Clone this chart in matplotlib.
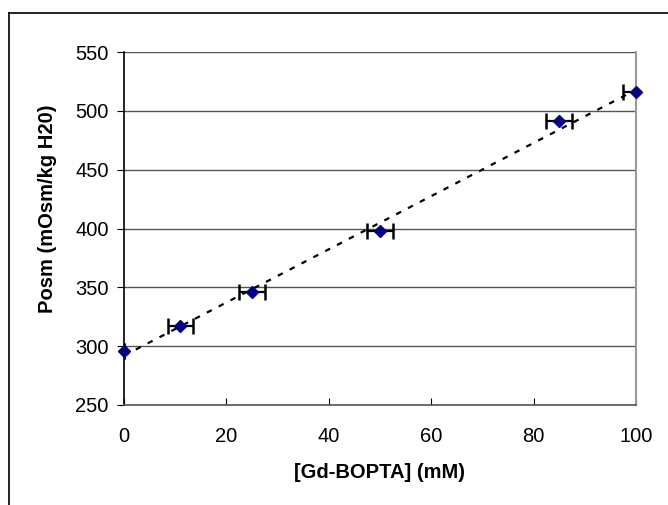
import numpy as np
import matplotlib
matplotlib.use("Agg")
import matplotlib.pyplot as plt
from matplotlib.lines import Line2D

conc = [0, 11, 25, 50, 85, 100]
posm = [296, 317, 346, 398, 491, 516]
conc_err = [0, 2.5, 2.5, 2.5, 2.5, 2.5]

plt.rcParams['font.family'] = ['Liberation Sans', 'DejaVu Sans']

fig = plt.figure(figsize=(6.68, 5.05), dpi=100)
ax = fig.add_axes([124/668, 1-405/505, (636-124)/668, (405-52)/505])

# outer chart frame (bottom/right cut off by the image)
fig.add_artist(Line2D([9/668, 9/668], [0, 1-13/505], color='black', lw=1.2))
fig.add_artist(Line2D([9/668, 1], [1-13/505, 1-13/505], color='black', lw=1.2))

# trendline from linear fit
k, b = np.polyfit(conc, posm, 1)
xx = np.array([0, 100])
ax.plot(xx, k*xx+b, color='black', ls=(0, (2.5, 3.5)), lw=1.6, zorder=2)

ax.errorbar(conc, posm, xerr=conc_err, fmt='none',
            ecolor='black', elinewidth=1.6, capsize=6, capthick=1.8, zorder=3)
ax.plot(conc, posm, 'D', color='#000080', ms=6, zorder=4, clip_on=False)

ax.set_xlim(0, 100)
ax.set_ylim(250, 550)
ax.set_xticks(range(0, 101, 20))
ax.set_yticks(range(250, 551, 50))
ax.yaxis.grid(True, color='#555555', lw=1)
ax.set_axisbelow(True)

ax.spines['right'].set_color('#999999')
ax.spines['right'].set_linewidth(1.5)
ax.spines['top'].set_visible(False)
ax.spines['left'].set_linewidth(1.2)
ax.spines['bottom'].set_color('#555555')
ax.spines['bottom'].set_linewidth(1.2)

ax.tick_params(axis='x', direction='in', length=5, labelsize=14.5, pad=16)
ax.tick_params(axis='y', direction='out', length=5, labelsize=14.5, pad=6)

ax.set_xlabel('[Gd-BOPTA] (mM)', fontsize=14.5, fontweight='bold')
ax.set_ylabel('Posm (mOsm/kg H20)', fontsize=14.5, fontweight='bold')
ax.xaxis.set_label_coords(0.5, -0.163)
ax.yaxis.set_label_coords(-0.13, 0.555)

fig.savefig('out.png', dpi=100)
